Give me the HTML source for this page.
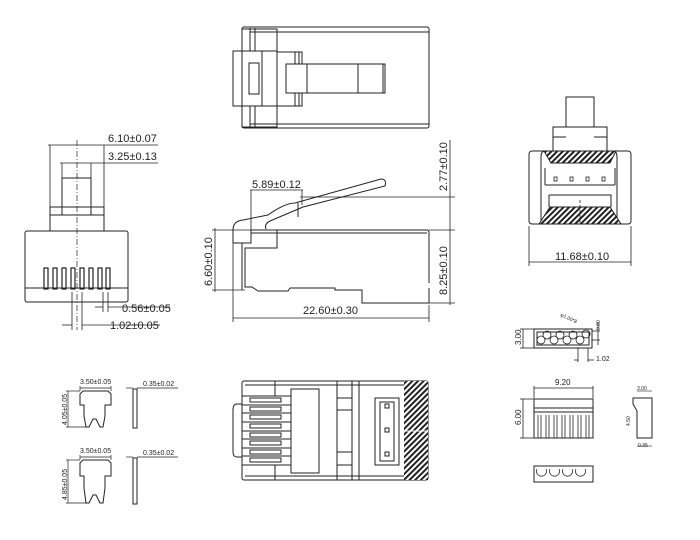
<!DOCTYPE html>
<html><head><meta charset="utf-8"><style>
html,body{margin:0;padding:0;background:#fff;width:700px;height:540px;overflow:hidden}
svg{display:block}
text{font-family:"Liberation Sans",sans-serif;fill:#222}
</style></head><body>
<svg width="700" height="540" viewBox="0 0 700 540" xmlns="http://www.w3.org/2000/svg">
<defs>
<pattern id="h" width="4" height="4" patternUnits="userSpaceOnUse" patternTransform="rotate(45)">
<rect width="4" height="4" fill="#fff"/><rect width="2" height="4" fill="#222"/></pattern>
</defs>
<g fill="none" stroke="#222" stroke-width="1">
<!-- TOP VIEW -->
<rect x="242" y="27" width="187" height="101" rx="2"/>
<line x1="250" y1="32" x2="429" y2="32"/><line x1="250" y1="124" x2="429" y2="124"/>
<line x1="250" y1="28" x2="250" y2="127"/><line x1="255" y1="28" x2="255" y2="127"/>
<rect x="242" y="29" width="35" height="98"/>
<rect x="233" y="51" width="44" height="55" fill="#fff"/>
<line x1="262" y1="51" x2="262" y2="106"/><line x1="242" y1="51" x2="242" y2="106"/>
<rect x="249" y="63" width="10" height="31"/>
<rect x="277" y="52" width="25" height="54"/>
<line x1="295" y1="52" x2="295" y2="106"/><line x1="299" y1="52" x2="299" y2="106"/>
<rect x="286" y="64" width="99" height="29" fill="#fff"/>
<line x1="307" y1="64" x2="307" y2="93"/><line x1="358" y1="64" x2="358" y2="93"/><line x1="383" y1="64" x2="383" y2="93"/>

<!-- LEFT FRONT VIEW -->
<rect x="25" y="231" width="103" height="71" rx="2"/>
<line x1="25" y1="288" x2="128" y2="288"/>
<rect x="50" y="207" width="54" height="24"/>
<line x1="50" y1="215" x2="104" y2="215"/>
<rect x="62" y="178" width="29" height="37"/>
<line x1="77" y1="140" x2="77" y2="330" stroke-dasharray="6,2,1,2" stroke-width="0.7"/>
<g stroke-width="0.8">
<line x1="50" y1="145" x2="50" y2="207"/><line x1="104" y1="145" x2="104" y2="207"/>
<line x1="48" y1="145" x2="158" y2="145"/>
<line x1="62" y1="163" x2="62" y2="178"/><line x1="91" y1="163" x2="91" y2="178"/>
<line x1="60" y1="163" x2="158" y2="163"/>
<line x1="103" y1="292" x2="103" y2="312"/><line x1="108" y1="292" x2="108" y2="312"/>
<line x1="95" y1="307" x2="103" y2="307"/><line x1="108" y1="307" x2="170" y2="307"/>
<line x1="72" y1="292" x2="72" y2="330"/><line x1="82" y1="292" x2="82" y2="330"/>
<line x1="62" y1="325" x2="72" y2="325"/><line x1="82" y1="325" x2="160" y2="325"/>
</g>
<g stroke-width="1.2">
<rect x="44" y="268" width="4" height="21"/><rect x="53" y="268" width="4" height="21"/>
<rect x="62" y="268" width="4" height="21"/><rect x="71" y="268" width="4" height="21"/>
<rect x="80" y="268" width="4" height="21"/><rect x="89" y="268" width="4" height="21"/>
<rect x="98" y="268" width="4" height="21"/><rect x="106" y="268" width="4" height="21"/>
</g>

<!-- SIDE VIEW -->
<path d="M251,230 H427 Q429,230 429,233 V283 M429,303 V288 M429,303 H362 V290 H335 V288 H290 L288,291 H258 L252,287 H245 V248 H277 V230"/>
<line x1="251" y1="233" x2="427" y2="233"/>
<line x1="242" y1="243" x2="242" y2="290"/>
<path d="M233,243 V230 Q233,221 243,220 L268,215 Q285,203 295,203 L381,179 Q387,179 385,186 L303,207 L270,221 Q264,224 266,229 M233,243 H251 V230"/>
<line x1="298" y1="203" x2="298" y2="217"/>
<g stroke-width="0.8">
<line x1="251" y1="190" x2="251" y2="230"/><line x1="302" y1="190" x2="302" y2="205"/>
<line x1="250" y1="190" x2="303" y2="190"/>
<line x1="300" y1="197" x2="455" y2="197"/><line x1="429" y1="230" x2="455" y2="230"/>
<line x1="429" y1="303" x2="455" y2="303"/>
<line x1="450" y1="140" x2="450" y2="305"/>
<line x1="212" y1="230" x2="251" y2="230"/><line x1="212" y1="290" x2="245" y2="290"/>
<line x1="215" y1="228" x2="215" y2="292"/>
<line x1="233" y1="243" x2="233" y2="322"/><line x1="429" y1="305" x2="429" y2="322"/>
<line x1="233" y1="318" x2="429" y2="318"/>
</g>

<!-- BOTTOM MIDDLE VIEW -->
<rect x="242" y="381" width="186" height="99" rx="2"/>
<line x1="275" y1="381" x2="275" y2="396"/><line x1="275" y1="465" x2="275" y2="480"/>
<line x1="245" y1="385" x2="404" y2="385"/><line x1="245" y1="476" x2="404" y2="476"/>
<line x1="337" y1="381" x2="337" y2="480"/><line x1="352" y1="381" x2="352" y2="480"/>
<line x1="359" y1="381" x2="359" y2="480"/>
<line x1="337" y1="398" x2="352" y2="398"/><line x1="337" y1="410" x2="352" y2="410"/>
<line x1="337" y1="452" x2="352" y2="452"/><line x1="337" y1="465" x2="352" y2="465"/>
<path d="M242,404 H237 Q233,404 233,410 V452 Q233,457 237,457 H242"/>
<g>
<line x1="242" y1="396" x2="291" y2="396"/>
<line x1="242" y1="405" x2="291" y2="405"/><line x1="242" y1="413" x2="291" y2="413"/>
<line x1="242" y1="422" x2="291" y2="422"/><line x1="242" y1="431" x2="291" y2="431"/>
<line x1="242" y1="439" x2="291" y2="439"/><line x1="242" y1="448" x2="291" y2="448"/>
<line x1="242" y1="456" x2="291" y2="456"/><line x1="242" y1="465" x2="291" y2="465"/>
<rect x="250" y="398" width="31" height="4"/><rect x="250" y="407" width="31" height="4"/>
<rect x="250" y="415" width="31" height="4"/><rect x="250" y="424" width="31" height="4"/>
<rect x="250" y="433" width="31" height="4"/><rect x="250" y="441" width="31" height="4"/>
<rect x="250" y="450" width="31" height="4"/><rect x="250" y="458" width="31" height="4"/>
</g>
<rect x="291" y="389" width="28" height="84"/>
<rect x="375" y="398" width="24" height="67"/>
<rect x="380" y="402" width="14" height="59"/>
<rect x="385" y="404" width="4" height="4"/><rect x="385" y="428" width="4" height="4"/><rect x="385" y="452" width="4" height="4"/>
<rect x="404" y="381" width="24" height="99" fill="url(#h)" stroke="none"/>
<line x1="404" y1="431" x2="428" y2="431" stroke="#fff"/>

<!-- RIGHT FRONT VIEW -->
<rect x="529" y="151" width="102" height="73" rx="3"/>
<path d="M541,224 V157 Q541,151 545,151 M617,224 V157 Q617,151 613,151"/>
<rect x="553" y="127" width="54" height="24"/>
<line x1="553" y1="137" x2="566" y2="137"/><line x1="594" y1="137" x2="607" y2="137"/>
<rect x="566" y="97" width="28" height="30"/>
<path d="M544,151 H616 L610,163 H551 Z" fill="url(#h)"/>
<path d="M550,207 H610 L621,224 H539 Z" fill="url(#h)"/>
<path d="M545,168 V185 M615,168 V185 M545,185 H615 M549,195 H611 V207 M549,195 V207"/>
<g stroke-width="0.8">
<rect x="554" y="177" width="3" height="4"/><rect x="570" y="177" width="3" height="4"/>
<rect x="586" y="177" width="3" height="4"/><rect x="602" y="177" width="3" height="4"/>
<line x1="580" y1="200" x2="580" y2="224" stroke-dasharray="3,2"/>
<line x1="529" y1="226" x2="529" y2="266"/><line x1="631" y1="226" x2="631" y2="266"/>
<line x1="529" y1="262" x2="631" y2="262"/>
</g>

<!-- SMALL PARTS -->
<rect x="534" y="329" width="58" height="19"/>
<rect x="537" y="332" width="52" height="13"/>
<g stroke-width="0.8">
<circle cx="547" cy="335" r="4"/><circle cx="560" cy="335" r="4"/><circle cx="573" cy="335" r="4"/><circle cx="586" cy="334" r="4"/>
<circle cx="541" cy="340" r="4"/><circle cx="554" cy="340" r="4"/><circle cx="567" cy="340" r="4"/><circle cx="580" cy="340" r="4"/>
<line x1="520" y1="329" x2="534" y2="329"/><line x1="520" y1="348" x2="534" y2="348"/><line x1="523" y1="329" x2="523" y2="348"/>
<line x1="592" y1="331" x2="600" y2="331"/><line x1="592" y1="340" x2="600" y2="340"/><line x1="598" y1="322" x2="598" y2="345"/>
<line x1="578" y1="348" x2="578" y2="362"/><line x1="588" y1="348" x2="588" y2="362"/>
<line x1="574" y1="360" x2="578" y2="360"/><line x1="588" y1="360" x2="594" y2="360"/>
</g>
<rect x="534" y="399" width="59" height="39"/>
<line x1="534" y1="408" x2="593" y2="408"/><line x1="534" y1="412" x2="593" y2="412"/>
<g stroke-width="0.8">
<line x1="538" y1="415" x2="538" y2="438"/><line x1="541" y1="415" x2="541" y2="438"/>
<line x1="546" y1="415" x2="546" y2="438"/><line x1="549" y1="415" x2="549" y2="438"/>
<line x1="554" y1="415" x2="554" y2="438"/><line x1="557" y1="415" x2="557" y2="438"/>
<line x1="562" y1="415" x2="562" y2="438"/><line x1="565" y1="415" x2="565" y2="438"/>
<line x1="570" y1="415" x2="570" y2="438"/><line x1="573" y1="415" x2="573" y2="438"/>
<line x1="578" y1="415" x2="578" y2="438"/><line x1="581" y1="415" x2="581" y2="438"/>
<line x1="586" y1="415" x2="586" y2="438"/><line x1="589" y1="415" x2="589" y2="438"/>
<line x1="534" y1="386" x2="534" y2="398"/><line x1="593" y1="386" x2="593" y2="398"/>
<line x1="534" y1="388" x2="593" y2="388"/>
<line x1="520" y1="399" x2="534" y2="399"/><line x1="520" y1="438" x2="534" y2="438"/><line x1="523" y1="399" x2="523" y2="438"/>
</g>
<path d="M633,398 H652 V438 H637 V411 L633,404 Z"/>
<g stroke-width="0.6">
<line x1="637" y1="391" x2="652" y2="391"/><line x1="637" y1="446" x2="652" y2="446"/>
</g>
<rect x="534" y="466" width="59" height="16"/>
<g stroke-width="0.8">
<path d="M537,469 a5,5 0 1 0 9,0 M550,469 a5,5 0 1 0 9,0 M563,469 a5,5 0 1 0 9,0 M576,469 a5,5 0 1 0 9,0"/>
</g>

<!-- TERMINALS -->
<path d="M83,391 H108 L111,394 V405 H105 V416 L103,427 H100 L96,419 H93 L89,427 H86 L84,416 V405 H80 V394 Z"/>
<path d="M83,460 H108 L111,463 V476 H105 V488 L103,503 H100 L96,495 H93 L89,503 H86 L84,488 V476 H80 V463 Z"/>
<rect x="133" y="389" width="4" height="39"/><rect x="133" y="458" width="4" height="46"/>
<g stroke-width="0.7">
<line x1="80" y1="386" x2="80" y2="391"/><line x1="111" y1="386" x2="111" y2="391"/>
<line x1="80" y1="388" x2="111" y2="388"/>
<line x1="66" y1="391" x2="80" y2="391"/><line x1="66" y1="427" x2="86" y2="427"/>
<line x1="68" y1="391" x2="68" y2="427"/>
<line x1="80" y1="455" x2="80" y2="460"/><line x1="111" y1="455" x2="111" y2="460"/>
<line x1="80" y1="457" x2="111" y2="457"/>
<line x1="66" y1="460" x2="80" y2="460"/><line x1="66" y1="503" x2="86" y2="503"/>
<line x1="68" y1="460" x2="68" y2="503"/>
<line x1="126" y1="388" x2="133" y2="388"/><line x1="137" y1="388" x2="178" y2="388"/>
<line x1="126" y1="457" x2="133" y2="457"/><line x1="137" y1="457" x2="178" y2="457"/>
</g>
</g>
<!-- TEXT -->
<g font-size="11">
<text x="108" y="142">6.10±0.07</text>
<text x="108" y="160">3.25±0.13</text>
<text x="122" y="312">0.56±0.05</text>
<text x="110" y="329">1.02±0.05</text>
<text x="252" y="188">5.89±0.12</text>
<text x="303" y="314">22.60±0.30</text>
<text transform="translate(447,191) rotate(-90)">2.77±0.10</text>
<text transform="translate(447,295) rotate(-90)">8.25±0.10</text>
<text transform="translate(212,286) rotate(-90)">6.60±0.10</text>
<text x="555" y="260">11.68±0.10</text>
</g>
<g font-size="8">
<text x="80" y="384" font-size="7">3.50±0.05</text>
<text x="80" y="453" font-size="7">3.50±0.05</text>
<text x="143" y="386" font-size="7">0.35±0.02</text>
<text x="143" y="455" font-size="7">0.35±0.02</text>
<text transform="translate(67,425) rotate(-90)" font-size="7">4.05±0.05</text>
<text transform="translate(67,500) rotate(-90)" font-size="7">4.85±0.05</text>
<text transform="translate(521,345) rotate(-90)">3.00</text>
<text transform="translate(560,316) rotate(25)" font-size="5">φ1.00*8</text>
<text transform="translate(600,330) rotate(-90)" font-size="5">0.80</text>
<text x="596" y="361" font-size="7">1.02</text>
<text x="555" y="385">9.20</text>
<text transform="translate(521,425) rotate(-90)">6.00</text>
<text x="637" y="390" font-size="5">3.00</text>
<text transform="translate(630,426) rotate(-90)" font-size="5">4.50</text>
<text x="638" y="447" font-size="5">0.35</text>
</g>
</svg>
</body></html>
